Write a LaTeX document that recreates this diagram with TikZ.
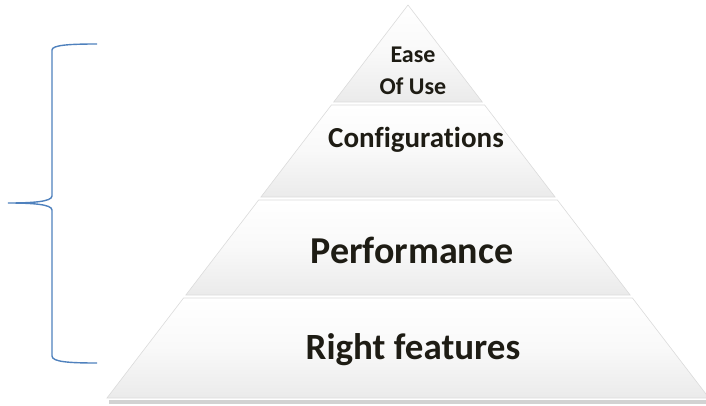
\documentclass[tikz,border=0pt]{standalone}
\usepackage{fontspec}
\setmainfont{Carlito}[Ligatures=NoCommon]
\definecolor{cBrace}{RGB}{79,129,189}
\definecolor{cText}{RGB}{30,28,20}
\tikzset{layer/.style={
  draw=gray!28,
  line width=0.6pt,
  top color=white,
  bottom color=gray!16,
  middle color=gray!5,
  }
}
\tikzset{label/.style={
  font=\bfseries,
  text=cText,
  align=center,
  inner sep=0pt,
  }
}

\begin{document}
\begin{tikzpicture}[x=1pt,y=1pt]
  \useasboundingbox (0,0) rectangle (706,405);
  % shadow under the base
  \fill[gray!35] (109,1) rectangle (706,5);
  % top layer
  \path[layer] (408,400) -- ({408-0.766*(400-303)},303) -- ({408+0.766*(400-303)},303) -- cycle;
  % lower layers
  \foreach \top/\bot in {300/208, 205/110, 107/7}
    \path[layer] ({408-0.766*(400-\top)},\top) -- ({408+0.766*(400-\top)},\top)
      -- ({408+0.766*(400-\bot)},\bot) -- ({408-0.766*(400-\bot)},\bot) -- cycle;

  \node[label, font=\bfseries\fontsize{24}{32}\selectfont] (ease) at (413,334) {Ease\\Of Use};
  \node[label, font=\bfseries\fontsize{29}{32}\selectfont] (conf) at (416,265) {Configurations};
  \node[label, font=\bfseries\fontsize{38}{42}\selectfont] (perf) at (412,155) {Performance};
  \node[label, font=\bfseries\fontsize{37}{42}\selectfont] (feat) at (413,55) {Right features};

  % brace
  \coordinate (btop) at (97,361);
  \coordinate (bbot) at (97,42);
  \coordinate (btip) at (8,202);
  \draw[cBrace, line width=1.4pt]
    (btop) .. controls (70,361) and (52,360) .. (52,355)
    -- (52,209) .. controls (52,203) and (30,202) .. (btip)
    .. controls (30,202) and (52,201) .. (52,195)
    -- (52,49) .. controls (52,43) and (70,42) .. (bbot);
\end{tikzpicture}
\end{document}
